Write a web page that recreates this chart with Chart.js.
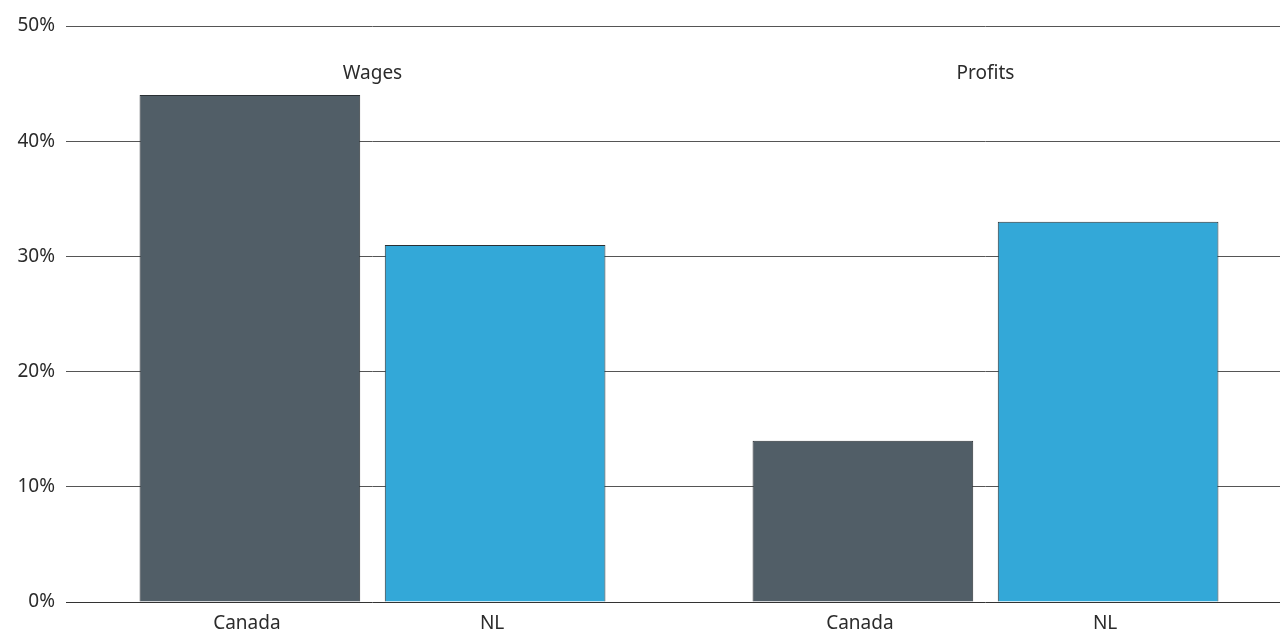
<!DOCTYPE html>
<html>
<head>
<meta charset="utf-8">
<script src="https://cdn.jsdelivr.net/npm/chart.js@4/dist/chart.umd.min.js"></script>
<style>
  html, body { margin: 0; padding: 0; background: #fff; overflow: hidden; }
  #wrap { position: relative; width: 1292px; height: 633px; }
</style>
</head>
<body>
<div id="wrap"><canvas id="chart"></canvas></div>
<script>
// Share of income, by component and region
const groups = ['Wages', 'Profits'];
const regions = ['Canada', 'NL'];
const canadaValues = [44, 14];
const nlValues = [31, 33];
const yTicks = [0, 10, 20, 30, 40, 50];

const FONT = '"Noto Sans", "Open Sans", sans-serif';
const TEXT = '#2b2b2b';

// Region names under each bar, component names above each group
const labelPlugin = {
  id: 'groupLabels',
  afterDatasetsDraw(chart) {
    const { ctx, chartArea, scales } = chart;
    ctx.save();
    ctx.fillStyle = TEXT;
    ctx.font = '19px ' + FONT;
    ctx.textAlign = 'center';
    ctx.textBaseline = 'middle';
    chart.data.datasets.forEach((ds, di) => {
      chart.getDatasetMeta(di).data.forEach(bar => {
        ctx.fillText(ds.label, bar.x - 3, chartArea.bottom + 22);
      });
    });
    groups.forEach((g, i) => {
      ctx.fillText(g, scales.x.getPixelForValue(i), chartArea.top + 48);
    });
    ctx.restore();
  }
};

new Chart(document.getElementById('chart'), {
  type: 'bar',
  data: {
    labels: groups,
    datasets: [
      { label: regions[0], data: canadaValues, backgroundColor: '#515e67', borderColor: '#2a3034', borderWidth: 1 },
      { label: regions[1], data: nlValues, backgroundColor: '#33a8d8', borderColor: '#2a3034', borderWidth: 1 }
    ]
  },
  plugins: [labelPlugin],
  options: {
    responsive: true,
    maintainAspectRatio: false,
    animation: false,
    layout: { padding: { top: 26, bottom: 31, left: 0, right: 0 } },
    categoryPercentage: 0.8,
    barPercentage: 0.9,
    plugins: { legend: { display: false }, tooltip: { enabled: false } },
    scales: {
      x: {
        display: false
      },
      y: {
        min: yTicks[0],
        max: yTicks[yTicks.length - 1],
        afterBuildTicks(scale) { scale.ticks = yTicks.map(v => ({ value: v })); },
        afterFit(scale) { scale.width = 66; },
        border: { display: false },
        grid: {
          drawTicks: false,
          lineWidth: 1,
          color: ctx => ctx.tick && ctx.tick.value === 0 ? '#333' : '#555'
        },
        ticks: {
          padding: 11,
          color: TEXT,
          font: { family: FONT, size: 19 },
          callback: v => v + '%'
        }
      }
    }
  }
});
</script>
</body>
</html>
